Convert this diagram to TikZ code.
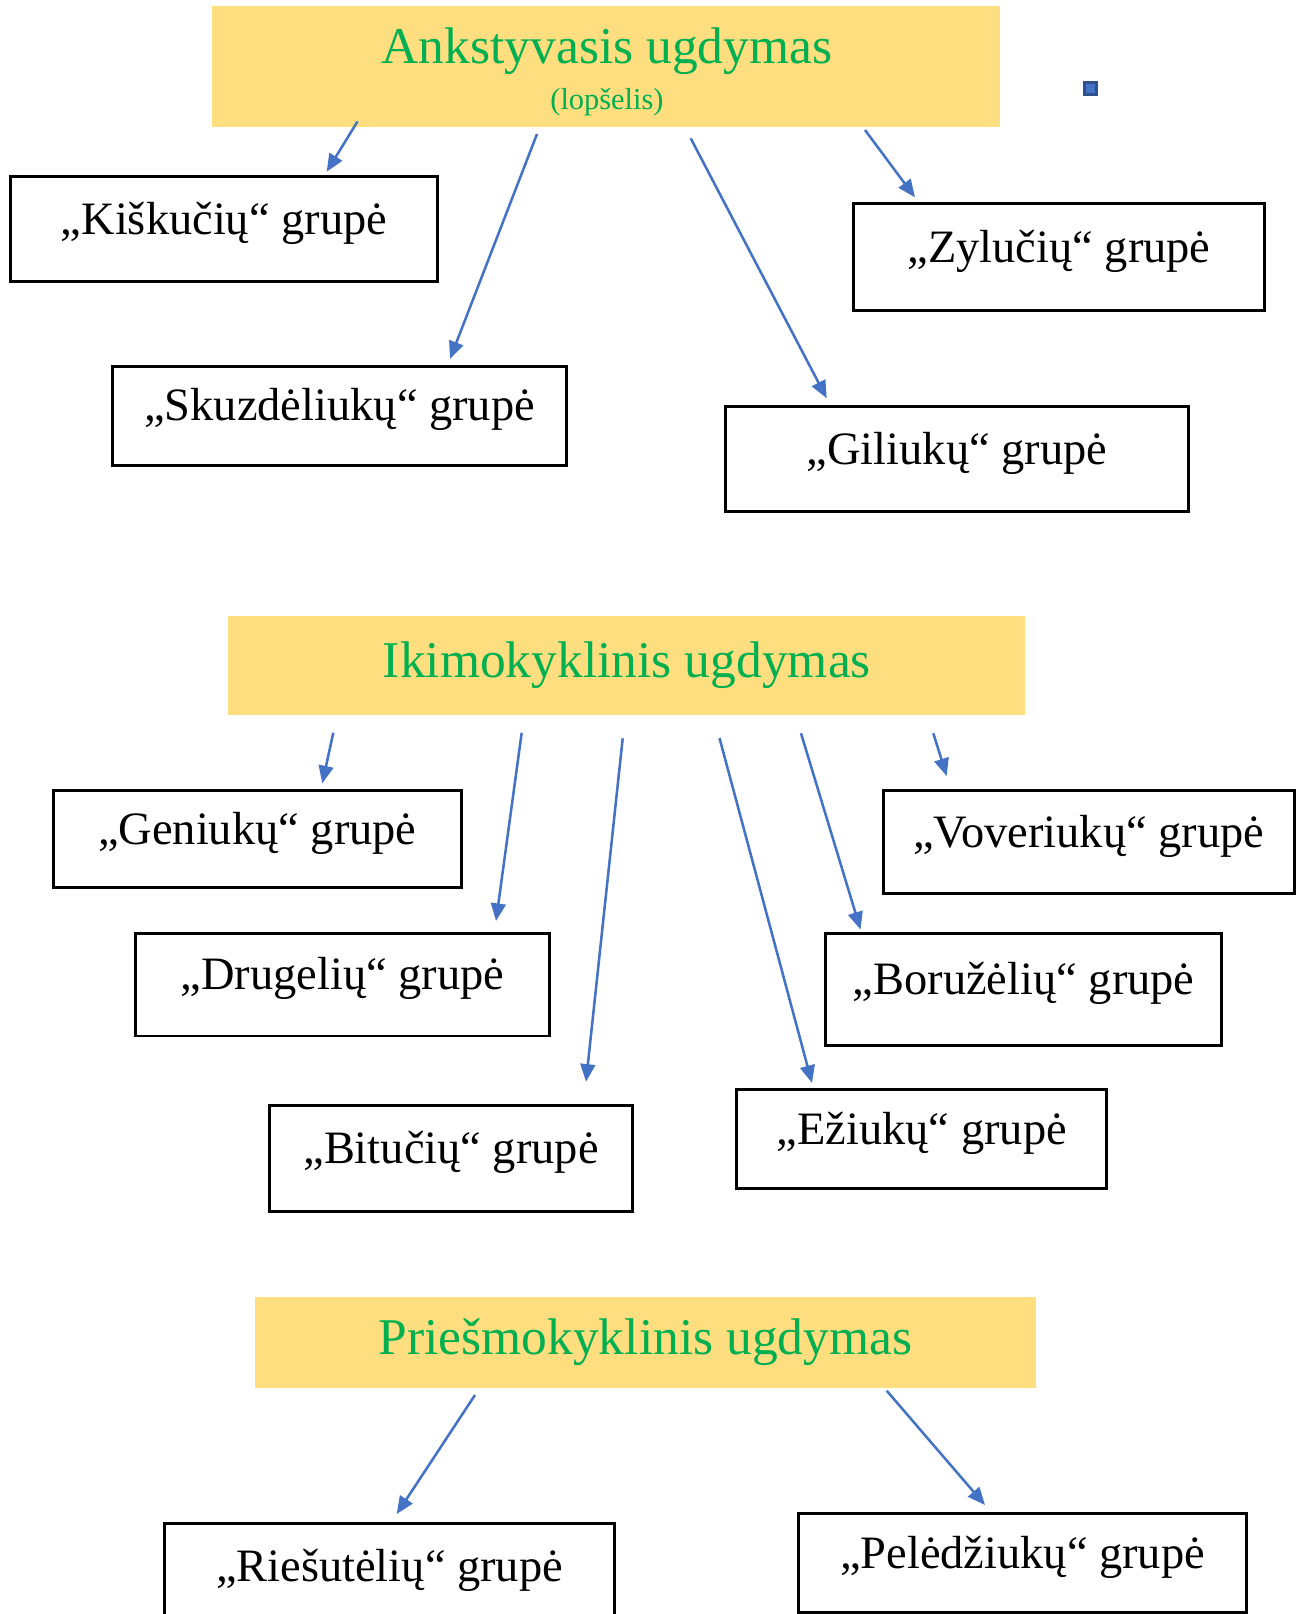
\documentclass[tikz,border=0pt]{standalone}
\usepackage{fontspec}
\setmainfont{Liberation Serif}
\usepackage{tikz}
\usetikzlibrary{arrows.meta}
\definecolor{geltona}{HTML}{FFDE80}
\definecolor{zalia}{HTML}{00B050}
\definecolor{melyna}{HTML}{4472C4}
\definecolor{tamsimelyna}{HTML}{2F528F}
\newcommand{\grp}[1]{„#1“ grupė}

\begin{document}
\begin{tikzpicture}[x=0.01cm,y=-0.01cm]
		\tikzstyle{grupe}=[draw=black, line width=0.85pt, inner sep=0pt, text depth=0.22cm, font=\fontsize{13.2}{15}\selectfont]
		\tikzstyle{lygis}=[fill=geltona, inner sep=0pt, text=zalia, font=\fontsize{14.65}{17}\selectfont]
		\tikzstyle{rodykle}=[melyna, line width=0.72pt, -{Triangle[length=5pt,width=4.2pt]}]
		\useasboundingbox (0,0) rectangle (1299,1614);
		% lopselis
		\node (anks) [lygis, minimum width=7.885cm, minimum height=1.205cm] at (606,66.3) {};
		\node (anksT) [lygis, fill=none, anchor=base] at (607,63) {Ankstyvasis ugdymas};
		\node (anksS) [lygis, fill=none, anchor=base, font=\fontsize{8.65}{10}\selectfont] at (607,109) {(lopšelis)};
		\draw [tamsimelyna, fill=melyna, line width=0.8pt] (1084.5,82.5) rectangle (1096.5,94.5);
		\node (kisk) [grupe, minimum width=4.27cm, minimum height=1.04cm] at (224,229) {\grp{Kiškučių}};
		\node (zyl) [grupe, minimum width=4.1cm, minimum height=1.06cm] at (1059,257) {\grp{Zylučių}};
		\node (skuz) [grupe, minimum width=4.53cm, minimum height=0.99cm] at (339.6,415.8) {\grp{Skuzdėliukų}};
		\node (gil) [grupe, minimum width=4.63cm, minimum height=1.05cm] at (957,459) {\grp{Giliukų}};
		\coordinate (a1) at (357.5,121.5);
		\coordinate (b1) at (326.7,171.7);
		\coordinate (a2) at (537,134);
		\coordinate (b2) at (450,359);
		\coordinate (a3) at (690.7,138.3);
		\coordinate (b3) at (826.7,398.3);
		\coordinate (a4) at (865,130);
		\coordinate (b4) at (915,197.3);
		\draw [rodykle] (a1) -- (b1);
		\draw [rodykle] (a2) -- (b2);
		\draw [rodykle] (a3) -- (b3);
		\draw [rodykle] (a4) -- (b4);
		% ikimokyklinis
		\node (ikim) [lygis, minimum width=7.967cm, minimum height=0.999cm] at (626.9,665.5) {Ikimokyklinis ugdymas};
		\node (gen) [grupe, minimum width=4.076cm, minimum height=0.968cm] at (257.3,839) {\grp{Geniukų}};
		\node (vov) [grupe, minimum width=4.107cm, minimum height=1.026cm] at (1088.7,842) {\grp{Voveriukų}};
		\node (drug) [grupe, minimum width=4.13cm, minimum height=1.025cm] at (342.5,984.7) {\grp{Drugelių}};
		\node (bor) [grupe, minimum width=3.96cm, minimum height=1.12cm] at (1023.7,989.7) {\grp{Boružėlių}};
		\node (bit) [grupe, minimum width=3.63cm, minimum height=1.06cm] at (451,1158.5) {\grp{Bitučių}};
		\node (ez) [grupe, minimum width=3.695cm, minimum height=0.988cm] at (921.8,1139.4) {\grp{Ežiukų}};
		\coordinate (a5) at (333.3,732.7);
		\coordinate (b5) at (322.3,783.3);
		\coordinate (a6) at (521.7,732.7);
		\coordinate (b6) at (496,921);
		\coordinate (a7) at (622.7,738.3);
		\coordinate (b7) at (586,1081.7);
		\coordinate (a8) at (719.5,738);
		\coordinate (b8) at (812,1083);
		\coordinate (a9) at (801,733.3);
		\coordinate (b9) at (860.5,929.5);
		\coordinate (a10) at (933.3,733.3);
		\coordinate (b10) at (946.7,776);
		\draw [rodykle] (a5) -- (b5);
		\draw [rodykle] (a6) -- (b6);
		\draw [rodykle] (a7) -- (b7);
		\draw [rodykle] (a8) -- (b8);
		\draw [rodykle] (a9) -- (b9);
		\draw [rodykle] (a10) -- (b10);
		% priesmokyklinis
		\node (pries) [lygis, minimum width=7.81cm, minimum height=0.91cm] at (645.5,1342.5) {Priešmokyklinis ugdymas};
		\node (ries) [grupe, minimum width=4.49cm, minimum height=1.04cm] at (389.5,1576) {\grp{Riešutėlių}};
		\node (pel) [grupe, minimum width=4.484cm, minimum height=0.987cm] at (1022.5,1563.3) {\grp{Pelėdžiukų}};
		\coordinate (a11) at (475,1395);
		\coordinate (b11) at (396.7,1514);
		\coordinate (a12) at (886.7,1390.7);
		\coordinate (b12) at (985,1505);
		\draw [rodykle] (a11) -- (b11);
		\draw [rodykle] (a12) -- (b12);
	\end{tikzpicture}
\end{document}
